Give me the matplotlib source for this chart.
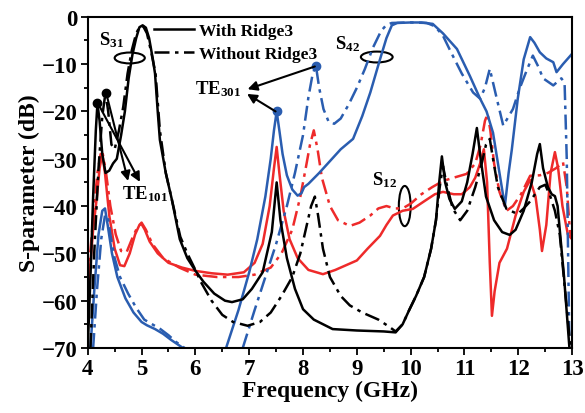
import numpy as np
import matplotlib
matplotlib.use("Agg")
import matplotlib.pyplot as plt
from matplotlib.patches import Ellipse
from matplotlib.lines import Line2D

plt.rcParams["font.family"] = "Liberation Serif"
plt.rcParams["font.weight"] = "bold"
plt.rcParams["axes.labelweight"] = "bold"
plt.rcParams["mathtext.fontset"] = "custom"
plt.rcParams["mathtext.rm"] = "Liberation Serif:bold"
plt.rcParams["mathtext.it"] = "Liberation Serif:bold"
plt.rcParams["mathtext.bf"] = "Liberation Serif:bold"

# S31, with ridge (solid black)
s31_w_f = [4.00, 4.05, 4.10, 4.15, 4.18, 4.22, 4.27, 4.33, 4.40, 4.47, 4.54, 4.62, 4.69,
           4.76, 4.83, 4.90, 4.96, 5.02, 5.08, 5.14, 5.21, 5.25, 5.30, 5.34, 5.45, 5.56,
           5.71, 5.85, 5.99, 6.15, 6.35, 6.55, 6.68, 6.88, 7.05, 7.25, 7.42, 7.51, 7.58,
           7.70, 7.85, 8.00, 8.20, 8.55, 9.00, 9.50, 9.72, 9.85, 9.98, 10.10, 10.25, 10.38,
           10.47, 10.53, 10.58, 10.64, 10.72, 10.82, 10.95, 11.05, 11.15, 11.23, 11.30,
           11.40, 11.55, 11.70, 11.84, 11.95, 12.10, 12.25, 12.35, 12.40, 12.46, 12.55,
           12.62, 12.68, 12.73, 12.85, 12.95]
s31_w_db = [-70, -55, -38, -24, -18.3, -22, -29, -33, -32.5, -31, -30, -25, -20,
            -13, -8, -4.5, -2.2, -1.8, -2.3, -4.5, -9, -12, -20, -26, -33, -38.5,
            -47, -51, -53.5, -56, -58.5, -60, -60.3, -59.7, -57.5, -54, -45.5, -35, -43,
            -51, -57.5, -61.8, -64, -66, -66.3, -66.5, -66.7, -65, -61.8, -59, -55, -49,
            -43, -35, -29.5, -35, -38.5, -40.6, -39, -35, -29, -23.5, -30,
            -38, -43, -45.5, -46.1, -45, -41, -35, -29, -26.9, -32, -36,
            -37.5, -37.9, -40, -55, -70]

# S31, without ridge (dash-dot black)
s31_n_f = [4.05, 4.12, 4.20, 4.27, 4.33, 4.38, 4.44, 4.50, 4.58, 4.66, 4.74, 4.82, 4.90,
           4.97, 5.03, 5.10, 5.18, 5.26, 5.34, 5.45, 5.58, 5.72, 5.85, 6.00, 6.10, 6.30,
           6.50, 6.70, 6.97, 7.20, 7.40, 7.60, 7.80, 7.95, 8.05, 8.15, 8.22, 8.28, 8.37,
           8.50, 8.70, 8.87, 9.10, 9.40, 9.60, 9.72, 9.85, 9.98, 10.10, 10.25, 10.38, 10.47,
           10.54, 10.60, 10.66, 10.78, 10.92, 11.05, 11.20, 11.32, 11.40, 11.47, 11.53,
           11.62, 11.78, 11.99, 12.10, 12.22, 12.40, 12.50, 12.59, 12.68, 12.77, 12.87,
           12.97]
s31_n_db = [-70, -50, -32, -21, -16, -20, -27, -28, -24, -19, -12, -7, -3.5,
            -2, -2, -3.5, -7.5, -12, -24, -33, -39.5, -46.5, -50, -53.5, -56, -60,
            -63, -64.5, -65.3, -64.5, -62.5, -59, -55, -50, -45, -40, -38, -42, -49,
            -55, -59, -61, -62.5, -64, -65.5, -66.5, -65, -61.8, -59, -55, -49, -43,
            -36, -31.5, -35, -40.5, -43, -41, -36, -31, -27, -25.8, -30,
            -36, -40.6, -41.7, -40.5, -39, -36, -35.5, -37.8, -41, -46, -58,
            -70]

# S42, with ridge (solid blue)
s42_w_f = [4.05, 4.12, 4.20, 4.27, 4.32, 4.37, 4.45, 4.55, 4.70, 4.85, 5.00, 5.10, 5.25,
           5.40, 5.55, 5.77, np.nan, 6.57, 6.80, 7.00, 7.15, 7.30, 7.40, 7.46, 7.51, 7.56,
           7.62, 7.70, 7.80, 7.90, 7.97, 8.02, 8.10, 8.30, 8.50, 8.70, 8.93, 9.10, 9.25,
           9.43, 9.55, 9.65, 9.75, 10.00, 10.20, 10.41, 10.60, 10.86, 11.10, 11.29, 11.41,
           11.53, 11.65, 11.75, 11.82, 11.88, 11.99, 12.10, 12.22, 12.30, 12.40, 12.52,
           12.65, 12.71, 12.76, 12.83, 13.00]
s42_w_db = [-70, -58, -46, -41, -40.5, -44, -50, -55, -59.5, -62.5, -64.5, -65.2, -66,
            -67, -68.3, -70, np.nan, -70, -62, -54, -47, -38, -30, -24, -20, -24,
            -29, -33.5, -36.5, -37.8, -37.3, -36, -35.3, -33, -30.5, -28, -25.8, -21, -16,
            -9, -4.5, -1.8, -1.3, -1.2, -1.2, -1.5, -3.5, -6.8, -12.5, -17.3, -20,
            -24.5, -33, -40, -33, -28, -17.3, -9, -4.3, -5.5, -7.5, -8.8,
            -9.6, -11.7, -11, -10, -7.8]

# S42, without ridge (dash-dot blue)
s42_n_f = [4.10, 4.17, 4.25, 4.32, 4.37, 4.42, 4.50, 4.60, 4.75, 4.90, 5.05, 5.20, 5.35,
           5.50, 5.65, 5.80, np.nan, 6.88, 7.10, 7.30, 7.50, 7.70, 7.85, 8.00, 8.10, 8.18,
           8.24, 8.30, 8.38, 8.48, 8.58, 8.70, 8.85, 9.00, 9.15, 9.30, 9.45, 9.55, 9.65,
           10.00, 10.30, 10.45, 10.60, 10.75, 10.95, 11.16, 11.29, 11.38, 11.47, 11.60,
           11.72, 11.90, 12.03, 12.15, 12.27, 12.37, 12.46, 12.65, 12.80, 12.86, 12.90,
           12.95]
s42_n_db = [-70, -58, -47, -42, -42, -46, -51, -55, -58.5, -61.5, -64, -65, -66,
            -67.3, -68.8, -70, np.nan, -70, -62, -55, -48, -40, -33, -25, -17, -12,
            -10.4, -15, -19.5, -22.3, -22.6, -21.5, -18.5, -15, -11, -6.5, -3, -1.7, -1.3,
            -1.2, -1.3, -2, -4, -7.5, -12, -16, -17.3, -15, -11, -17.3,
            -23, -19.5, -15, -11.5, -8.2, -10.5, -13, -14.5, -13, -14, -30,
            -70]

# S12, with ridge (solid red)
s12_w_f = [4.00, 4.05, 4.10, 4.17, 4.22, 4.27, 4.32, 4.40, 4.50, 4.60, 4.68, 4.78, 4.88,
           4.96, 5.00, 5.06, 5.15, 5.30, 5.50, 5.75, 6.00, 6.30, 6.60, 6.90, 7.10, 7.25,
           7.38, 7.46, 7.51, 7.56, 7.64, 7.75, 7.90, 8.10, 8.37, 8.60, 8.80, 9.00, 9.20,
           9.43, 9.55, 9.67, 9.85, 10.04, 10.25, 10.45, 10.60, 10.80, 10.95, 11.10, 11.20,
           11.29, 11.36, 11.42, 11.47, 11.51, 11.56, 11.65, 11.79, 11.95, 12.10, 12.22,
           12.32, 12.40, 12.44, 12.52, 12.60, 12.68, 12.74, 12.82, 12.92, 13.00]
s12_w_db = [-58, -52, -45, -38, -32, -29, -33, -42, -49, -52.5, -52.7, -50, -46,
            -44, -43.8, -45, -47.5, -50, -52, -53, -53.7, -54.2, -54.5, -54, -52, -48,
            -40, -32, -27.5, -33, -41, -47, -51, -53.5, -54.4, -53.5, -52.5, -51.5, -49,
            -46.3, -44, -42, -41, -40.6, -39, -37.5, -37, -37.5, -37.5, -36, -34,
            -31, -28, -35, -52, -63.2, -58, -52, -49, -42, -37, -34.5,
            -38, -45, -49.5, -44, -33, -28.6, -32, -40, -46, -47]

# S12, without ridge (dash-dot red)
s12_n_f = [4.00, 4.06, 4.12, 4.18, 4.24, 4.28, 4.34, 4.42, 4.52, 4.62, 4.72, 4.82, 4.92,
           5.00, 5.08, 5.20, 5.40, 5.70, 6.00, 6.40, 6.80, 7.10, 7.40, 7.60, 7.80, 7.95,
           8.05, 8.13, 8.20, 8.27, 8.35, 8.50, 8.65, 8.87, 9.05, 9.25, 9.40, 9.55, 9.70,
           9.85, 10.00, 10.20, 10.40, 10.60, 10.80, 11.04, 11.20, 11.30, 11.38, 11.43,
           11.48, 11.55, 11.65, 11.78, 11.90, 12.05, 12.22, 12.40, 12.55, 12.70, 12.83,
           12.90, 12.96, 13.00]
s12_n_db = [-56, -48, -40, -33, -29, -29, -33, -40, -46, -49.5, -49.8, -47, -44.5,
            -43.5, -45, -48, -51, -53, -54.5, -55, -55, -54.5, -53, -50, -45, -38,
            -32, -27, -24, -28, -34, -40, -43, -44.2, -43.5, -42, -40.5, -40, -40.5,
            -40.5, -39.5, -37.5, -36, -34.7, -34, -33.2, -31, -27, -22, -20.5,
            -24, -31, -37, -41, -40, -37.5, -33.6, -33.5, -33, -32, -30.7,
            -36, -45.5, -47]

BLUE = "#2a5db0"
RED = "#ee2a2a"
DASHDOT = (0, (6, 2.2, 1.4, 2.2))

fig = plt.figure(figsize=(5.85, 4.14), dpi=100)
ax = fig.add_axes([0.150, 0.157, 0.828, 0.800])

lw = 1.8
ax.plot(s12_n_f, s12_n_db, color=RED, lw=lw, ls=DASHDOT)
ax.plot(s12_w_f, s12_w_db, color=RED, lw=lw)
ax.plot(s42_n_f, s42_n_db, color=BLUE, lw=lw, ls=DASHDOT)
ax.plot(s42_w_f, s42_w_db, color=BLUE, lw=lw)
ax.plot(s31_n_f, s31_n_db, color="black", lw=lw, ls=DASHDOT)
ax.plot(s31_w_f, s31_w_db, color="black", lw=lw)

# resonance markers
ax.plot([4.18, 4.33], [-18.3, -16], "o", color="black", ms=6)
ax.plot([7.51, 8.24], [-20, -10.4], "o", color=BLUE, ms=6)

arrow = dict(arrowstyle="-|>", color="black", lw=1.5, mutation_scale=14,
             shrinkA=0, shrinkB=0)
ax.annotate("", xy=(4.97, -34.9), xytext=(4.19, -18.3), arrowprops=arrow)
ax.annotate("", xy=(4.75, -34.7), xytext=(4.34, -16), arrowprops=arrow)
ax.annotate("", xy=(6.97, -15.3), xytext=(8.22, -10.5), arrowprops=arrow)
ax.annotate("", xy=(6.96, -16.3), xytext=(7.49, -20), arrowprops=arrow)

ax.text(5.06, -37.2, r"TE$_{101}$", fontsize=13.5, ha="center", va="center")
ax.text(6.42, -15.0, r"TE$_{301}$", fontsize=13.5, ha="center", va="center")
ax.text(4.45, -4.8, r"S$_{31}$", fontsize=13.5, ha="center", va="center")
ax.text(8.83, -5.6, r"S$_{42}$", fontsize=13.5, ha="center", va="center")
ax.text(9.52, -34.3, r"S$_{12}$", fontsize=13.5, ha="center", va="center")

for cx, cy, w, h in [(4.78, -8.7, 0.56, 2.3), (9.37, -8.5, 0.59, 2.3), (9.89, -40.0, 0.22, 8.5)]:
    ax.add_patch(Ellipse((cx, cy), w, h, fill=False, ec="black", lw=1.5))

handles = [Line2D([], [], color="black", lw=lw),
           Line2D([], [], color="black", lw=lw, ls=DASHDOT)]
ax.legend(handles, ["With Ridge3", "Without Ridge3"], loc="upper left",
          bbox_to_anchor=(0.105, 1.03), frameon=False, fontsize=12.5,
          handlelength=2.3, handletextpad=0.3, labelspacing=0.4)

ax.set_xlim(4, 13)
ax.set_ylim(-70, 0)
ax.set_xticks(np.arange(4, 14, 1))
ax.set_xticks(np.arange(4, 13.01, 0.5), minor=True)
ax.set_yticks(np.arange(-70, 1, 10))
ax.set_yticks(np.arange(-70, 1, 5), minor=True)
ax.tick_params(which="both", direction="out", width=1.3, labelsize=16.5,
               top=False, right=False, pad=2.5)
ax.tick_params(which="major", length=5)
ax.tick_params(which="minor", length=3)
for s in ax.spines.values():
    s.set_linewidth(1.5)

ax.set_xlabel("Frequency (GHz)", fontsize=17, labelpad=0)
ax.set_ylabel("S-parameter (dB)", fontsize=17, labelpad=1)

fig.savefig("out.png", dpi=100)
